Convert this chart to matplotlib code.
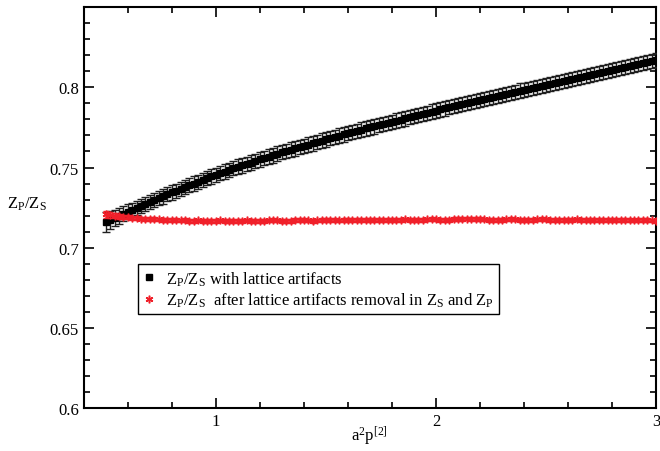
import matplotlib
matplotlib.use('Agg')
import matplotlib.pyplot as plt
from matplotlib.lines import Line2D
from matplotlib.ticker import MultipleLocator

plt.rcParams['font.family'] = ['Liberation Serif', 'DejaVu Serif']
plt.rcParams['mathtext.fontset'] = 'custom'
plt.rcParams['mathtext.rm'] = 'Liberation Serif'
plt.rcParams['mathtext.it'] = 'Liberation Serif:italic'

# a^2 p^[2] values (same grid for both series)
a2p2 = [0.50, 0.52, 0.54, 0.56, 0.58, 0.60, 0.62, 0.64, 0.66, 0.68,
        0.70, 0.72, 0.74, 0.76, 0.78, 0.80, 0.82, 0.84, 0.86, 0.88,
        0.90, 0.92, 0.94, 0.96, 0.98, 1.00, 1.02, 1.04, 1.06, 1.08,
        1.10, 1.12, 1.14, 1.16, 1.18, 1.20, 1.22, 1.24, 1.26, 1.28,
        1.30, 1.32, 1.34, 1.36, 1.38, 1.40, 1.42, 1.44, 1.46, 1.48,
        1.50, 1.52, 1.54, 1.56, 1.58, 1.60, 1.62, 1.64, 1.66, 1.68,
        1.70, 1.72, 1.74, 1.76, 1.78, 1.80, 1.82, 1.84, 1.86, 1.88,
        1.90, 1.92, 1.94, 1.96, 1.98, 2.00, 2.02, 2.04, 2.06, 2.08,
        2.10, 2.12, 2.14, 2.16, 2.18, 2.20, 2.22, 2.24, 2.26, 2.28,
        2.30, 2.32, 2.34, 2.36, 2.38, 2.40, 2.42, 2.44, 2.46, 2.48,
        2.50, 2.52, 2.54, 2.56, 2.58, 2.60, 2.62, 2.64, 2.66, 2.68,
        2.70, 2.72, 2.74, 2.76, 2.78, 2.80, 2.82, 2.84, 2.86, 2.88,
        2.90, 2.92, 2.94, 2.96, 2.98, 3.00]

# Z_P/Z_S with lattice artifacts
zpzs_raw = [0.7160, 0.7171, 0.7186, 0.7197, 0.7212, 0.7225, 0.7236, 0.7249, 0.7260, 0.7273,
            0.7285, 0.7296, 0.7309, 0.7320, 0.7334, 0.7345, 0.7355, 0.7367, 0.7378, 0.7390,
            0.7400, 0.7411, 0.7423, 0.7433, 0.7445, 0.7455, 0.7464, 0.7475, 0.7484, 0.7496,
            0.7505, 0.7513, 0.7523, 0.7531, 0.7542, 0.7550, 0.7558, 0.7568, 0.7576, 0.7587,
            0.7595, 0.7602, 0.7611, 0.7619, 0.7628, 0.7635, 0.7643, 0.7651, 0.7659, 0.7668,
            0.7675, 0.7683, 0.7690, 0.7699, 0.7707, 0.7715, 0.7721, 0.7729, 0.7736, 0.7744,
            0.7750, 0.7757, 0.7764, 0.7771, 0.7779, 0.7785, 0.7792, 0.7799, 0.7806, 0.7814,
            0.7820, 0.7827, 0.7834, 0.7841, 0.7849, 0.7855, 0.7862, 0.7869, 0.7876, 0.7884,
            0.7890, 0.7896, 0.7902, 0.7908, 0.7915, 0.7920, 0.7927, 0.7933, 0.7940, 0.7947,
            0.7953, 0.7959, 0.7966, 0.7972, 0.7979, 0.7985, 0.7991, 0.7997, 0.8003, 0.8010,
            0.8015, 0.8022, 0.8028, 0.8034, 0.8041, 0.8047, 0.8053, 0.8059, 0.8065, 0.8072,
            0.8078, 0.8084, 0.8090, 0.8096, 0.8103, 0.8108, 0.8114, 0.8120, 0.8126, 0.8133,
            0.8138, 0.8144, 0.8151, 0.8157, 0.8164, 0.8170]
zpzs_raw_err = [0.0062, 0.0056, 0.0052, 0.0049, 0.0047] + [0.0045] * 121

# Z_P/Z_S after lattice artifacts removal
zpzs_corr = [0.7208, 0.7203, 0.7199, 0.7195, 0.7192, 0.7189, 0.7187, 0.7184, 0.7182, 0.7180,
             0.7179, 0.7177, 0.7176, 0.7175, 0.7173, 0.7172, 0.7171, 0.7170, 0.7171, 0.7169,
             0.7168, 0.7170, 0.7169, 0.7167, 0.7168, 0.7169, 0.7170, 0.7168, 0.7167, 0.7166,
             0.7167, 0.7169, 0.7170, 0.7169, 0.7168, 0.7167, 0.7168, 0.7170, 0.7171, 0.7170,
             0.7169, 0.7168, 0.7169, 0.7171, 0.7172, 0.7171, 0.7170, 0.7169, 0.7170, 0.7172,
             0.7173, 0.7172, 0.7171, 0.7170, 0.7171, 0.7173, 0.7174, 0.7173, 0.7172, 0.7171,
             0.7172, 0.7174, 0.7175, 0.7174, 0.7173, 0.7172, 0.7173, 0.7175, 0.7176, 0.7175,
             0.7174, 0.7173, 0.7174, 0.7176, 0.7177, 0.7176, 0.7175, 0.7174, 0.7175, 0.7177,
             0.7178, 0.7180, 0.7182, 0.7181, 0.7179, 0.7177, 0.7176, 0.7175, 0.7174, 0.7173,
             0.7174, 0.7176, 0.7177, 0.7176, 0.7175, 0.7174, 0.7173, 0.7174, 0.7176, 0.7177,
             0.7176, 0.7175, 0.7174, 0.7173, 0.7172, 0.7173, 0.7175, 0.7176, 0.7175, 0.7174,
             0.7173, 0.7172, 0.7171, 0.7172, 0.7174, 0.7175, 0.7174, 0.7173, 0.7172, 0.7171,
             0.7170, 0.7171, 0.7172, 0.7171, 0.7170, 0.7169]
zpzs_corr_err = [0.0020, 0.0017, 0.0015, 0.0014, 0.0013] + [0.0012] * 121

RED = '#f0202a'

fig = plt.figure(figsize=(6.6, 4.52), dpi=100)
ax = fig.add_axes([0.127, 0.095, 0.867, 0.887])

ax.errorbar(a2p2, zpzs_raw, yerr=zpzs_raw_err, fmt='s', color='black', ecolor='#202020',
            markersize=4.5, elinewidth=1, capsize=3, capthick=1, zorder=3)
ax.errorbar(a2p2, zpzs_corr, yerr=zpzs_corr_err, fmt='none', ecolor=RED,
            elinewidth=1, capsize=2, capthick=1, zorder=4)
ax.plot(a2p2, zpzs_corr, linestyle='none', marker=(6, 2, 0), color=RED,
        markersize=5.5, markeredgewidth=1.1, zorder=5)

ax.set_xlim(0.4, 3.0)
ax.set_ylim(0.6, 0.85)
ax.xaxis.set_minor_locator(MultipleLocator(0.2))
ax.yaxis.set_minor_locator(MultipleLocator(0.01))
ax.set_yticks([0.6, 0.65, 0.7, 0.75, 0.8])
ax.set_yticklabels(['0.6', '0.65', '0.7', '0.75', '0.8'])
ax.set_xticks([1, 2, 3])
ax.set_xticklabels(['1', '2', '3'])

ax.tick_params(which='both', direction='in', top=True, right=True, labelsize=12)
ax.tick_params(which='major', length=7, width=1.2)
ax.tick_params(which='minor', length=4.5, width=1.2)
for sp in ax.spines.values():
    sp.set_linewidth(1.5)

ax.set_xlabel(r'$\mathrm{a^2p^{[2]}}$', fontsize=12)
ax.xaxis.set_label_coords(0.5, -0.04)
ax.set_ylabel(r'$\mathrm{Z_P/Z_S}$', fontsize=12, rotation=0)
ax.yaxis.set_label_coords(-0.1, 0.49)

handles = [
    Line2D([], [], linestyle='none', marker='s', color='black', markersize=4.5),
    Line2D([], [], linestyle='none', marker=(6, 2, 0), color=RED, markersize=5.5,
           markeredgewidth=1.1),
]
labels = [
    r'$\mathrm{Z_P/Z_S}$ with lattice artifacts',
    r'$\mathrm{Z_P/Z_S}$  after lattice artifacts removal in $\mathrm{Z_S}$ and $\mathrm{Z_P}$',
]
leg = ax.legend(handles, labels, loc='upper left', bbox_to_anchor=(0.094, 0.359),
                borderaxespad=0, fontsize=12, fancybox=False, framealpha=1,
                edgecolor='black', handlelength=0.8, handletextpad=0.6,
                borderpad=0.3, labelspacing=0.2)
leg.get_frame().set_linewidth(1.0)

fig.savefig('out.png', dpi=100)
